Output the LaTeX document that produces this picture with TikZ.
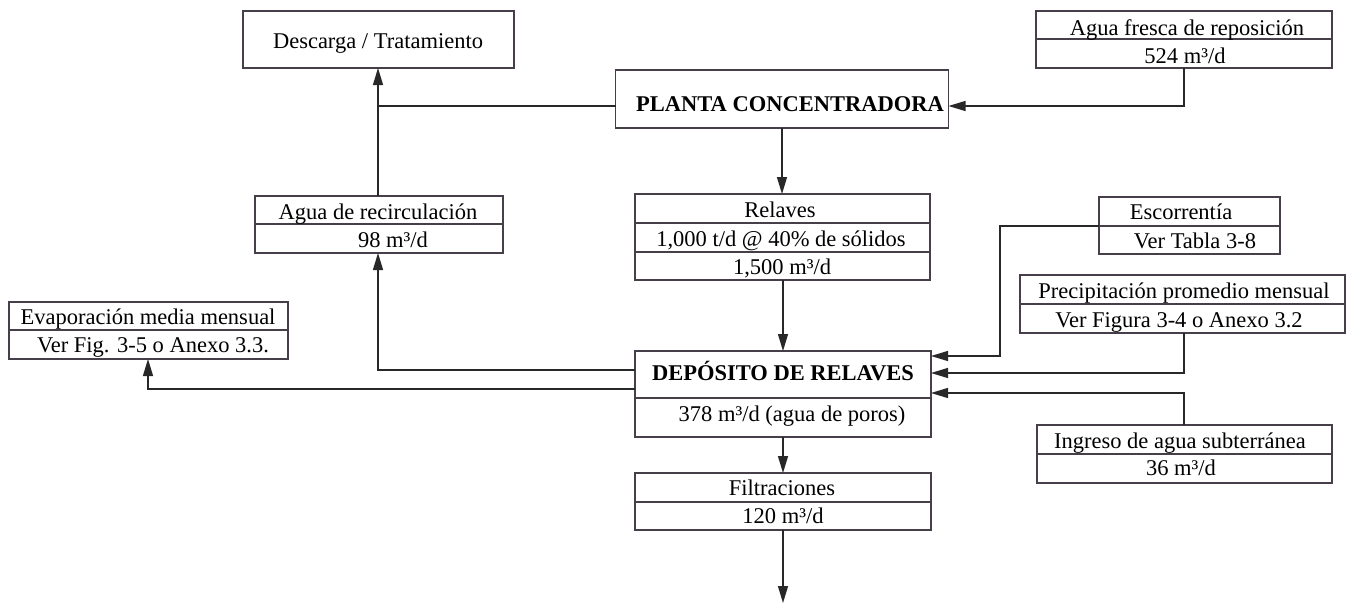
\documentclass[tikz,border=0pt]{standalone}
\usepackage{fontspec}
\setmainfont{Liberation Serif}
\usetikzlibrary{arrows.meta}
\definecolor{boxcol}{RGB}{70,62,72}
\definecolor{linecol}{RGB}{40,40,40}
\tikzset{
  box/.style={draw=boxcol, line width=0.75pt, rectangle, inner sep=0pt, outer sep=0pt},
  divline/.style={draw=boxcol, line width=0.75pt},
  txt/.style={inner sep=0pt, outer sep=0pt, text height=7.4pt, text depth=0pt, font=\fontsize{11.25}{13.5}\selectfont},
  btxt/.style={txt, font=\fontsize{11.25}{13.5}\selectfont\bfseries},
  conn/.style={draw=linecol, line width=0.65pt},
  arr/.style={conn, -{Triangle[length=8.5pt,width=5pt]}}
}
\begin{document}
\begin{tikzpicture}[x=0.5pt,y=-0.5pt]
\useasboundingbox[fill=white] (0,0) rectangle (1357,605);

% boxes
\node[box, minimum width=135.5pt, minimum height=28.5pt] (desc) at (378.5,39.5) {};
\node[box, minimum width=166.5pt, minimum height=29pt] (plant) at (782,99) {};
\node[box, minimum width=148pt, minimum height=28.5pt] (fresh) at (1184,39.5) {};
\node[box, minimum width=124pt, minimum height=28.5pt] (recirc) at (379,224.5) {};
\node[box, minimum width=147.5pt, minimum height=43pt] (rel) at (782.5,237) {};
\node[box, minimum width=90.5pt, minimum height=28.5pt] (esc) at (1189.5,225.5) {};
\node[box, minimum width=162.5pt, minimum height=29pt] (prec) at (1182.5,304) {};
\node[box, minimum width=139.5pt, minimum height=28.5pt] (evap) at (148.5,330.5) {};
\node[box, minimum width=148pt, minimum height=43pt] (dep) at (783,394) {};
\node[box, minimum width=147.5pt, minimum height=29pt] (ing) at (1184.5,454) {};
\node[box, minimum width=148pt, minimum height=28.5pt] (filt) at (783,501.5) {};

% dividers
\draw[divline] (fresh.west |- 0,39) -- (fresh.east |- 0,39);
\draw[divline] (recirc.west |- 0,224) -- (recirc.east |- 0,224);
\draw[divline] (rel.west |- 0,223) -- (rel.east |- 0,223);
\draw[divline] (rel.west |- 0,252) -- (rel.east |- 0,252);
\draw[divline] (esc.west |- 0,226) -- (esc.east |- 0,226);
\draw[divline] (prec.west |- 0,304) -- (prec.east |- 0,304);
\draw[divline] (evap.west |- 0,330) -- (evap.east |- 0,330);
\draw[divline] (dep.west |- 0,398) -- (dep.east |- 0,398);
\draw[divline] (ing.west |- 0,454) -- (ing.east |- 0,454);
\draw[divline] (filt.west |- 0,502) -- (filt.east |- 0,502);

% texts
\node[txt] (tdesc) at (378,41) {Descarga / Tratamiento};
\node[btxt] (tplant) at (790,104) {PLANTA CONCENTRADORA};
\node[txt] (tfresh1) at (1187,28) {Agua fresca de reposición};
\node[txt] (tfresh2) at (1185,56) {524 m³/d};
\node[txt] (trec1) at (378,212) {Agua de recirculación};
\node[txt] (trec2) at (393,240) {98 m³/d};
\node[txt] (trel1) at (780,210) {Relaves};
\node[txt] (trel2) at (781,239) {1,000 t/d @ 40\% de sólidos};
\node[txt] (trel3) at (782,267) {1,500 m³/d};
\node[txt] (tesc1) at (1181,212) {Escorrentía};
\node[txt] (tesc2) at (1195,241) {Ver Tabla 3-8};
\node[txt] (tprec1) at (1184,291) {Precipitación promedio mensual};
\node[txt] (tprec2) at (1179,320) {Ver Figura 3-4 o Anexo 3.2};
\node[txt] (tevap1) at (148,317) {Evaporación media mensual};
\node[txt] (tevap2) at (153,345) {Ver Fig. 3-5 o Anexo 3.3.};
\node[btxt] (tdep1) at (783,373) {DEPÓSITO DE RELAVES};
\node[txt] (tdep2) at (792,414) {378 m³/d (agua de poros)};
\node[txt] (ting1) at (1180,441) {Ingreso de agua subterránea};
\node[txt] (ting2) at (1181,468) {36 m³/d};
\node[txt] (tfilt1) at (782,488) {Filtraciones};
\node[txt] (tfilt2) at (783,516) {120 m³/d};

% bend coordinates
\coordinate (jf) at (1184,106);
\coordinate (jd) at (378,106);
\coordinate (jr) at (378,370);
\coordinate (je) at (148,389);
\coordinate (ja) at (1000,226);
\coordinate (jb) at (1000,356);
\coordinate (jp) at (1184,373);
\coordinate (ji) at (1184,393);
\coordinate (outlet) at (783,603);

% connectors
\draw[arr] (fresh.south -| jf) -- (jf) -- (plant.east |- jf);
\draw[conn] (plant.west |- jd) -- (jd);
\draw[arr] (recirc.north -| jd) -- (desc.south -| jd);
\draw[arr] (plant.south) -- (plant.south |- rel.north);
\draw[arr] (rel.south -| dep.north) -- (dep.north);
\draw[arr] (dep.west |- jr) -- (jr) -- (recirc.south -| jr);
\draw[arr] (dep.west |- je) -- (je) -- (evap.south -| je);
\draw[arr] (esc.west |- ja) -- (ja) -- (jb) -- (dep.east |- jb);
\draw[arr] (prec.south -| jp) -- (jp) -- (dep.east |- jp);
\draw[arr] (ing.north -| ji) -- (ji) -- (dep.east |- ji);
\draw[arr] (dep.south) -- (filt.north);
\draw[arr] (filt.south) -- (outlet);
\end{tikzpicture}
\end{document}
